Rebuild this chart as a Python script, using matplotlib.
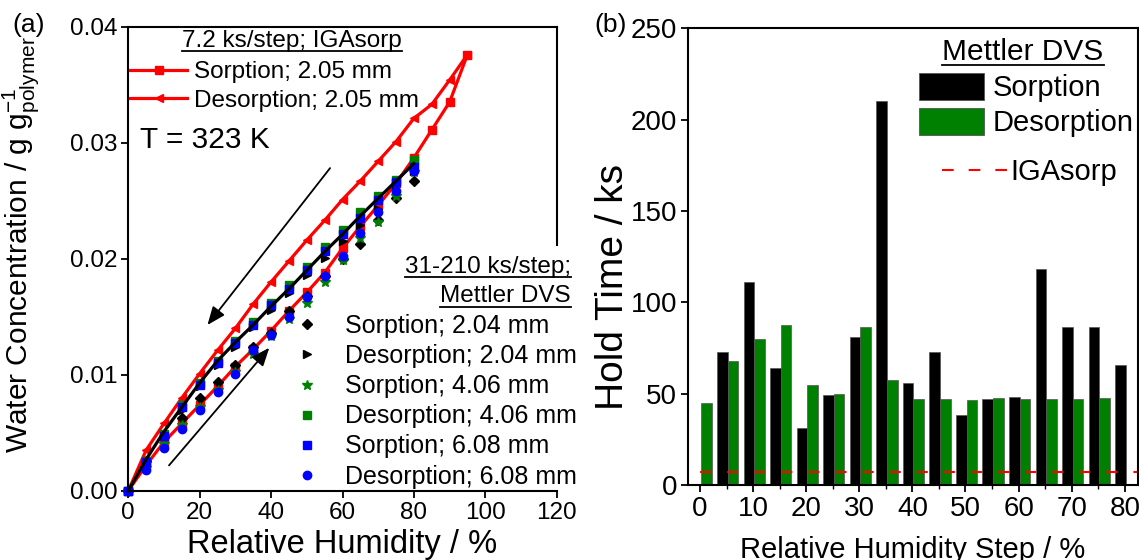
import numpy as np
import matplotlib
matplotlib.use("Agg")
import matplotlib.pyplot as plt
from matplotlib.lines import Line2D
from matplotlib.patches import Patch

plt.rcParams['font.family'] = ['Liberation Sans', 'DejaVu Sans']
plt.rcParams['mathtext.fontset'] = 'custom'
plt.rcParams['mathtext.rm'] = 'Liberation Sans'
plt.rcParams['mathtext.it'] = 'Liberation Sans'

# ---- panel (a): sorption isotherms ----
rh_iga = [0, 5, 10, 15, 20, 25, 30, 35, 40, 45, 50, 55, 60, 65, 70, 75, 80, 85, 90, 95]
iga_sorp = [0, 0.0022, 0.0042, 0.0058, 0.0074, 0.0090, 0.0107, 0.0122, 0.0138, 0.0155,
            0.0171, 0.0188, 0.0209, 0.0228, 0.0246, 0.0265, 0.0287, 0.0311, 0.0335, 0.0376]
iga_desorp = [0, 0.0035, 0.0058, 0.0080, 0.0101, 0.0121, 0.0140, 0.0161, 0.0180, 0.0198,
              0.0216, 0.0233, 0.0251, 0.0267, 0.0284, 0.0301, 0.0321, 0.0333, 0.0354, 0.0376]

rh_dvs = [0, 5, 10, 15, 20, 25, 30, 35, 40, 45, 50, 55, 60, 65, 70, 75, 80]
sorp_204 = [0, 0.0026, 0.0046, 0.0063, 0.0080, 0.0094, 0.0108, 0.0124, 0.0136, 0.0155,
            0.0168, 0.0185, 0.0200, 0.0213, 0.0233, 0.0252, 0.0267]
desorp_204 = [0, 0.0026, 0.0049, 0.0070, 0.0090, 0.0108, 0.0124, 0.0141, 0.0156, 0.0170,
              0.0186, 0.0201, 0.0215, 0.0229, 0.0243, 0.0258, 0.0276]
sorp_406 = [0, 0.0020, 0.0040, 0.0057, 0.0072, 0.0087, 0.0102, 0.0118, 0.0133, 0.0148,
            0.0162, 0.0180, 0.0199, 0.0218, 0.0232, 0.0254, 0.0275]
desorp_406 = [0, 0.0026, 0.0049, 0.0074, 0.0093, 0.0112, 0.0129, 0.0145, 0.0162, 0.0177,
              0.0193, 0.0210, 0.0225, 0.0240, 0.0254, 0.0268, 0.0285]
sorp_608 = [0, 0.0025, 0.0047, 0.0072, 0.0091, 0.0110, 0.0127, 0.0143, 0.0160, 0.0174,
            0.0190, 0.0207, 0.0221, 0.0235, 0.0251, 0.0266, 0.0279]
desorp_608 = [0, 0.0018, 0.0037, 0.0053, 0.0070, 0.0085, 0.0101, 0.0121, 0.0134, 0.0150,
              0.0167, 0.0185, 0.0202, 0.0222, 0.0240, 0.0258, 0.0276]
fit_line = [0, 0.0027, 0.0051, 0.0072, 0.0093, 0.0112, 0.0128, 0.0143, 0.0159, 0.0174,
            0.0190, 0.0206, 0.0221, 0.0237, 0.0252, 0.0267, 0.0282]

# ---- panel (b): hold times ----
rh_step = [0, 5, 10, 15, 20, 25, 30, 35, 40, 45, 50, 55, 60, 65, 70, 75, 80]
hold_sorp = [0, 73, 111, 64, 31, 49, 81, 210, 56, 73, 38.5, 47, 48, 118.5, 86.7, 86.7, 65.5]
hold_desorp = [44.7, 68, 80, 87.4, 54.7, 49.6, 86.7, 57.5, 47, 47, 46.3, 47.6, 47.3, 47, 47, 47.5, 0]
hold_iga = 7.2

W, H = 1139, 560
fig = plt.figure(figsize=(W / 100, H / 100), dpi=100)


def px_box(l, t, r, b):
    return [l / W, 1 - b / H, (r - l) / W, (b - t) / H]


def fx(x):
    return x / W


def fy(y):
    return 1 - y / H


def underlined(x, y, s, ha, size):
    t = fig.text(fx(x), fy(y), s, ha=ha, va='baseline', fontsize=size)
    fig.canvas.draw()
    bb = t.get_window_extent()
    yl = y + size * 0.24
    fig.add_artist(Line2D([fx(bb.x0), fx(bb.x1)], [fy(yl), fy(yl)], color='black', lw=1.3))


red = '#ff0000'
green = '#008000'
blue = '#0000ff'

ax = fig.add_axes(px_box(128.3, 26.7, 556.7, 490.7))
l1, = ax.plot(rh_iga, iga_sorp, color=red, lw=2.3, marker='s', ms=5.5, clip_on=False)
l2, = ax.plot(rh_iga, iga_desorp, color=red, lw=2.3, marker='<', ms=6, clip_on=False)
m1, = ax.plot(rh_dvs, sorp_204, ls='none', marker='D', color='black', ms=5, clip_on=False)
m2, = ax.plot(rh_dvs, desorp_204, ls='none', marker='>', color='black', ms=6, clip_on=False)
m3, = ax.plot(rh_dvs, sorp_406, ls='none', marker='*', color=green, ms=7, clip_on=False)
m4, = ax.plot(rh_dvs, desorp_406, ls='none', marker='s', color=green, ms=6, clip_on=False)
m5, = ax.plot(rh_dvs, sorp_608, ls='none', marker='s', color=blue, ms=6, clip_on=False)
m6, = ax.plot(rh_dvs, desorp_608, ls='none', marker='o', color=blue, ms=6, clip_on=False)
ax.plot(rh_dvs, fit_line, color='black', lw=2.3, clip_on=False)

ax.set_xlim(0, 120)
ax.set_ylim(0, 0.04)
ax.set_xticks(range(0, 121, 20))
ax.set_yticks([0, 0.01, 0.02, 0.03, 0.04])
ax.set_yticklabels(['0.00', '0.01', '0.02', '0.03', '0.04'])
ax.tick_params(direction='out', length=5, width=1.3, labelsize=17.5, pad=3)
for s in ax.spines.values():
    s.set_linewidth(1.5)
ax.spines['right'].set_bounds(0.0212, 0.04)
ax.set_xlabel('Relative Humidity / %', fontsize=23.5)
ax.xaxis.set_label_coords(0.5, -0.083)
ax.set_ylabel(r'Water Concentration / g g$_{\mathrm{polymer}}^{-1}$', fontsize=21.5)
ax.yaxis.set_label_coords(-0.204, 0.53)

ax.text(3.2, 0.0302, 'T = 323 K', fontsize=21.5, va='center')
ax.annotate('', xy=(21.7, 0.0141), xytext=(57, 0.0280),
            arrowprops=dict(arrowstyle='-|>,head_length=1.1,head_width=0.45', color='black', lw=1.3))
ax.annotate('', xy=(40, 0.0125), xytext=(10.9, 0.0020),
            arrowprops=dict(arrowstyle='-|>,head_length=1.1,head_width=0.45', color='black', lw=1.3))

leg1 = ax.legend([l1, l2], ['Sorption; 2.05 mm', 'Desorption; 2.05 mm'],
                 loc='upper left', bbox_to_anchor=(fx(130), fy(61)),
                 bbox_transform=fig.transFigure, frameon=False, fontsize=17.5,
                 handlelength=2.35, handletextpad=0.3, labelspacing=0.27,
                 borderpad=0, borderaxespad=0)
ax.add_artist(leg1)
ax.legend([m1, m2, m3, m4, m5, m6],
          ['Sorption; 2.04 mm', 'Desorption; 2.04 mm', 'Sorption; 4.06 mm',
           'Desorption; 4.06 mm', 'Sorption; 6.08 mm', 'Desorption; 6.08 mm'],
          loc='upper left', bbox_to_anchor=(fx(296), fy(314)),
          bbox_transform=fig.transFigure, frameon=False, fontsize=18,
          handlelength=0.9, handletextpad=1.05, labelspacing=0.245,
          borderpad=0, borderaxespad=0)

# ---- panel (b) ----
bx = fig.add_axes(px_box(688, 28.3, 1137.5, 485))
x = np.array(rh_step, dtype=float)
b1 = bx.bar(x - 0.8, hold_sorp, width=2.0, color='black', edgecolor='#555555', lw=0.5)
b2 = bx.bar(x + 1.2, hold_desorp, width=2.0, color=green, edgecolor='#555555', lw=0.5)
d1 = bx.axhline(hold_iga, color=red, lw=1.5, ls=(7.2, (5.3, 7.7)))
bx.set_xlim(-2.26, 82.4)
bx.set_ylim(0, 250)
bx.set_xticks(range(0, 81, 10))
bx.set_xticks(range(5, 81, 10), minor=True)
bx.set_yticks(range(0, 251, 50))
bx.tick_params(which='major', direction='out', length=5, width=1.3, labelsize=20, pad=3)
bx.tick_params(which='minor', direction='out', length=3, width=1.0)
for s in bx.spines.values():
    s.set_linewidth(1.5)
bx.set_xlabel('Relative Humidity Step / %', fontsize=21)
bx.xaxis.set_label_coords(0.5, -0.112)
bx.set_ylabel('Hold Time / ks', fontsize=28)
bx.yaxis.set_label_coords(-0.127, 0.434)

leg3 = bx.legend([Patch(facecolor='black', edgecolor='#555555', lw=0.6),
                  Patch(facecolor=green, edgecolor='#555555', lw=0.6)],
                 ['Sorption', 'Desorption'], loc='upper left',
                 bbox_to_anchor=(fx(919), fy(73)), bbox_transform=fig.transFigure,
                 frameon=False, fontsize=21, handlelength=2.23, handleheight=1.03,
                 handletextpad=0.31, labelspacing=0.19, borderpad=0, borderaxespad=0)
bx.add_artist(leg3)
bx.legend([Line2D([0], [0], color=red, lw=1.5, ls=(0, (5.6, 7.2)))], ['IGAsorp'],
          loc='upper left', bbox_to_anchor=(fx(942), fy(158)), bbox_transform=fig.transFigure,
          frameon=False, fontsize=21, handlelength=2.23, handletextpad=0.1,
          borderpad=0, borderaxespad=0)

fig.text(fx(12), fy(32), '(a)', fontsize=19)
fig.text(fx(594), fy(32), '(b)', fontsize=19)

underlined(292, 46.7, '7.2 ks/step; IGAsorp', 'center', 17.5)
underlined(571, 273, '31-210 ks/step;', 'right', 17.5)
underlined(571, 302.5, 'Mettler DVS', 'right', 17.5)
underlined(1023, 60, 'Mettler DVS', 'center', 21.5)

fig.savefig('out.png', dpi=100)
